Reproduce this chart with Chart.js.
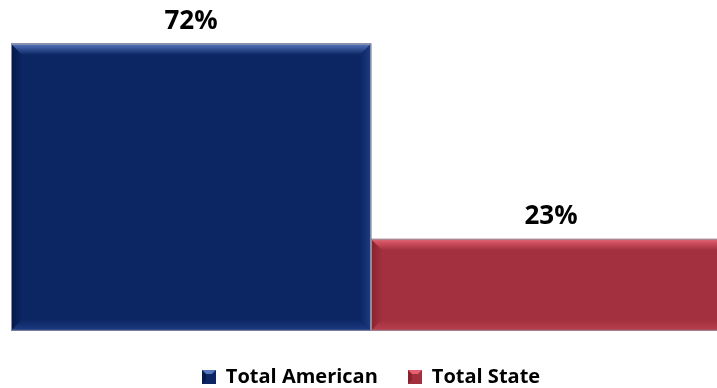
<!DOCTYPE html>
<html>
<head>
<meta charset="utf-8">
<script src="https://cdn.jsdelivr.net/npm/chart.js@4.4.1/dist/chart.umd.min.js"></script>
<style>
  html, body { margin: 0; padding: 0; background: #ffffff; overflow: hidden; }
  #wrap { position: relative; width: 731px; height: 388px; }
</style>
</head>
<body>
<div id="wrap"><canvas id="chart"></canvas></div>
<script>
// Share of respondents by group
const categories = [''];
const seriesNames = ['Total American', 'Total State'];
const totalAmerican = [72];
const totalState = [23];

// Face, light edge and dark edge colours for each bar
const palette = [
  { face: '#0c2663', light: '#5577bd', dark: '#051848', base: '#1d3c82' },
  { face: '#a2303e', light: '#e6606f', dark: '#88222f', base: '#b8404e' }
];

function legendSwatch(p) {
  const c = document.createElement('canvas');
  c.width = 14; c.height = 14;
  const g = c.getContext('2d');
  g.fillStyle = p.face; g.fillRect(0, 0, 14, 14);
  g.fillStyle = p.light;
  g.beginPath(); g.moveTo(0, 0); g.lineTo(14, 0); g.lineTo(10, 4); g.lineTo(4, 4); g.closePath(); g.fill();
  g.fillStyle = p.dark;
  g.beginPath(); g.moveTo(0, 0); g.lineTo(4, 4); g.lineTo(4, 10); g.lineTo(0, 14); g.closePath(); g.fill();
  return c;
}

// Bevelled faces drawn over the plain bars
const bevelPlugin = {
  id: 'bevel',
  afterDatasetsDraw(chart) {
    const ctx = chart.ctx;
    chart.data.datasets.forEach((ds, i) => {
      const meta = chart.getDatasetMeta(i);
      const p = palette[i];
      meta.data.forEach(bar => {
        const { x, y, base, width } = bar.getProps(['x', 'y', 'base', 'width'], true);
        const l = x - width / 2, r = x + width / 2, t = y, b = base;
        const e = 11;
        ctx.save();
        // top edge
        let gr = ctx.createLinearGradient(0, t, 0, t + e);
        gr.addColorStop(0, p.light); gr.addColorStop(1, p.face);
        ctx.fillStyle = gr;
        ctx.beginPath(); ctx.moveTo(l, t); ctx.lineTo(r, t); ctx.lineTo(r - e, t + e); ctx.lineTo(l + e, t + e); ctx.closePath(); ctx.fill();
        // left edge
        gr = ctx.createLinearGradient(l, 0, l + e, 0);
        gr.addColorStop(0, p.dark); gr.addColorStop(1, p.face);
        ctx.fillStyle = gr;
        ctx.beginPath(); ctx.moveTo(l, t); ctx.lineTo(l + e, t + e); ctx.lineTo(l + e, b - e); ctx.lineTo(l, b); ctx.closePath(); ctx.fill();
        // bottom edge
        gr = ctx.createLinearGradient(0, b - e, 0, b);
        gr.addColorStop(0, p.face); gr.addColorStop(1, p.base);
        ctx.fillStyle = gr;
        ctx.beginPath(); ctx.moveTo(l, b); ctx.lineTo(l + e, b - e); ctx.lineTo(r - e, b - e); ctx.lineTo(r, b); ctx.closePath(); ctx.fill();
        // right edge
        gr = ctx.createLinearGradient(r - e, 0, r, 0);
        gr.addColorStop(0, p.face); gr.addColorStop(1, p.base);
        ctx.fillStyle = gr;
        ctx.beginPath(); ctx.moveTo(r, t); ctx.lineTo(r - e, t + e); ctx.lineTo(r - e, b - e); ctx.lineTo(r, b); ctx.closePath(); ctx.fill();
        // thin outline
        ctx.strokeStyle = 'rgba(150,150,170,0.9)';
        ctx.lineWidth = 1;
        ctx.strokeRect(l + 0.5, t + 0.5, width - 1, b - t - 1);
        ctx.restore();
      });
    });
  }
};

// Percent labels above each bar
const valueLabels = {
  id: 'valueLabels',
  afterDatasetsDraw(chart) {
    const ctx = chart.ctx;
    ctx.save();
    ctx.font = 'bold 26px "Open Sans"';
    ctx.fillStyle = '#000000';
    ctx.textAlign = 'center';
    ctx.textBaseline = 'alphabetic';
    chart.data.datasets.forEach((ds, i) => {
      chart.getDatasetMeta(i).data.forEach((bar, j) => {
        ctx.fillText(ds.data[j] + '%', bar.x, bar.y - 15);
      });
    });
    ctx.restore();
  }
};

new Chart(document.getElementById('chart'), {
  type: 'bar',
  data: {
    labels: categories,
    datasets: [
      { label: seriesNames[0], data: totalAmerican, backgroundColor: palette[0].face, pointStyle: legendSwatch(palette[0]) },
      { label: seriesNames[1], data: totalState, backgroundColor: palette[1].face, pointStyle: legendSwatch(palette[1]) }
    ]
  },
  options: {
    responsive: true,
    maintainAspectRatio: false,
    animation: false,
    layout: { padding: { left: 11, right: 0, top: 12, bottom: -9 } },
    datasets: { bar: { categoryPercentage: 1, barPercentage: 1, borderWidth: 0 } },
    scales: {
      x: { display: false },
      y: { display: false, min: 0, max: 80 }
    },
    plugins: {
      tooltip: { enabled: false },
      legend: {
        position: 'bottom',
        title: { display: true, text: ' ', font: { size: 1 }, padding: { top: 2, bottom: 3 } },
        labels: {
          usePointStyle: true,
          boxWidth: 14,
          boxHeight: 14,
          padding: 30,
          color: '#000000',
          font: { family: '"Open Sans"', size: 20, weight: 'bold' },
          generateLabels(chart) {
            return chart.data.datasets.map((ds, i) => ({
              text: ds.label,
              fillStyle: ds.backgroundColor,
              strokeStyle: ds.backgroundColor,
              lineWidth: 0,
              pointStyle: ds.pointStyle,
              fontColor: '#000000',
              hidden: !chart.isDatasetVisible(i),
              datasetIndex: i
            }));
          }
        }
      }
    }
  },
  plugins: [bevelPlugin, valueLabels]
});
</script>
</body>
</html>
